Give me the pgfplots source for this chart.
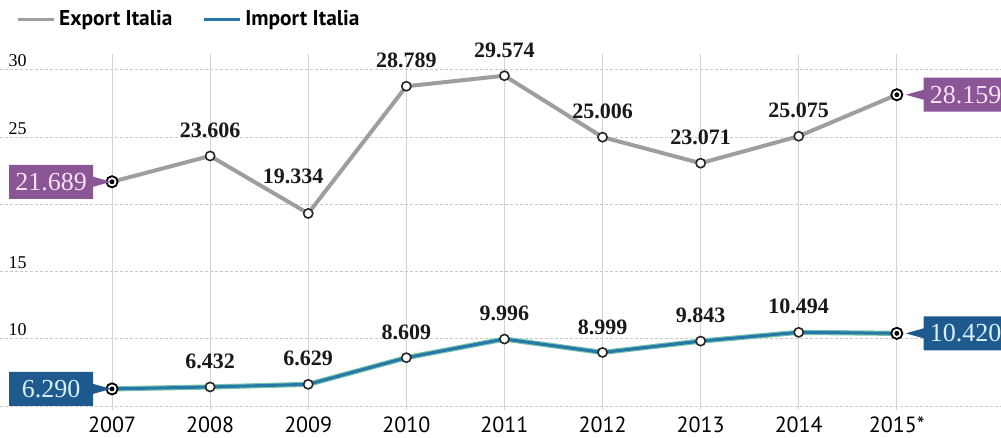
\documentclass[border=0pt]{standalone}
\usepackage{pgfplots}
\pgfplotsset{compat=1.18}
\usepackage{pgfplotstable}
\usepackage{fontspec}
\setmainfont{Liberation Serif}
\newfontfamily\ptsans{PT Sans}
\usetikzlibrary{shapes.callouts}

\definecolor{expgray}{RGB}{158,158,158}
\definecolor{impblue}{RGB}{38,120,168}
\definecolor{impgreen}{RGB}{120,196,170}
\definecolor{boxpurple}{RGB}{138,86,150}
\definecolor{boxpurpletext}{RGB}{250,225,245}
\definecolor{boxblue}{RGB}{30,90,142}
\definecolor{boxbluetext}{RGB}{215,240,250}
\definecolor{gridc}{RGB}{200,200,200}

\pgfplotstableread{
x y
0 21.689
1 23.606
2 19.334
3 28.789
4 29.574
5 25.006
6 23.071
7 25.075
8 28.159
}\exportdata

\pgfplotstableread{
x y
0 6.290
1 6.432
2 6.629
3 8.609
4 9.996
5 8.999
6 9.843
7 10.494
8 10.420
}\importdata

\pgfplotstableread{
x y lab dx dy
1 23.606 23.606 0 0
2 19.334 19.334 -7.5 6
3 28.789 28.789 0 0
4 29.574 29.574 0 0
5 25.006 25.006 0 0
6 23.071 23.071 0 0
7 25.075 25.075 0 0
}\exportlab

\pgfplotstableread{
x y lab dx dy
1 6.432 6.432 0 0
2 6.629 6.629 0 0
3 8.609 8.609 0 0
4 9.996 9.996 0 0
5 8.999 8.999 0 0
6 9.843 9.843 0 0
7 10.494 10.494 0 0
}\importlab

\tikzset{
  boxL/.style={shape=rectangle callout, callout relative pointer={(9pt,0pt)},
    callout pointer width=5pt, minimum width=42pt, minimum height=17pt,
    inner sep=1pt, anchor=east, xshift=-9pt, font=\fontsize{13}{15}\selectfont},
  boxR/.style={shape=rectangle callout, callout relative pointer={(-9pt,0pt)},
    callout pointer width=5pt, minimum width=42pt, minimum height=17pt,
    inner sep=1pt, anchor=west, xshift=13pt, font=\fontsize{13}{15}\selectfont},
}

\pgfplotsset{
  midmarks/.style={only marks, mark=*, mark size=2.3pt,
    mark options={fill=white, draw=black!85, line width=0.8pt}, forget plot,
    point meta=explicit symbolic,
    visualization depends on={\thisrow{dx} \as \dx},
    visualization depends on={\thisrow{dy} \as \dy},
    nodes near coords={\pgfplotspointmeta},
    every node near coord/.append style={font=\bfseries\fontsize{11}{13}\selectfont,
      text=black!90, anchor=south, yshift={5.3pt+\dy pt}, xshift={\dx pt}}},
  endmark/.style={only marks, mark=*, mark size=2.8pt,
    mark options={fill=white, draw=black, line width=0.9pt}, forget plot,
    point meta=explicit symbolic, nodes near coords={\pgfplotspointmeta}},
}

\begin{document}
\begin{tikzpicture}
\begin{axis}[
  scale only axis, width=500.5pt, height=219pt,
  xmin=-1.142, xmax=9.062, ymin=2.639, ymax=35.204,
  axis line style={draw=none}, major tick length=0pt,
  xtick={0,...,8}, xticklabels={2007,2008,2009,2010,2011,2012,2013,2014,2015*},
  ytick={5,10,15,20,25,30}, yticklabels={,10,15,,25,30},
  ymajorgrids, grid style={gridc, dash pattern=on 1.5pt off 1pt, line width=0.5pt},
  clip=false,
  /pgf/number format/assume math mode=true,
  xticklabel style={font=\ptsans\fontsize{11}{13}\selectfont, anchor=base, yshift=2.5pt},
  yticklabel style={font=\fontsize{9}{11}\selectfont, anchor=base west, xshift=0.8pt, yshift=1.5pt},
  legend style={at={(axis description cs:0,1)}, anchor=north west, xshift=5pt, yshift=-1pt,
    draw=none, fill=none, legend columns=2,
    font=\ptsans\bfseries\fontsize{10.7}{12}\selectfont,
    /tikz/every even column/.append style={column sep=13pt}},
  legend image code/.code={\draw[#1, line width=1.4pt] (0pt,0pt) -- (18pt,0pt);},
]
\pgfplotsinvokeforeach{0,...,8}{
  \draw[gridc!80, line width=0.45pt] (axis cs:#1,4.7) -- (axis cs:#1,31.2);
}
\addplot[expgray, line width=2pt] table[x=x,y=y]{\exportdata};
\addlegendentry{Export Italia}
\addplot[impgreen, line width=2.6pt, forget plot] table[x=x,y=y]{\importdata};
\addplot[impblue, line width=1.5pt] table[x=x,y=y]{\importdata};
\addlegendentry{Import Italia}

\addplot[midmarks] table[x=x,y=y,meta=lab]{\exportlab};
\addplot[midmarks] table[x=x,y=y,meta=lab]{\importlab};

\addplot[endmark, every node near coord/.append style={boxL, fill=boxpurple, text=boxpurpletext}]
  coordinates {(0,21.689) [21.689]};
\addplot[endmark, every node near coord/.append style={boxR, fill=boxpurple, text=boxpurpletext}]
  coordinates {(8,28.159) [28.159]};
\addplot[endmark, every node near coord/.append style={boxL, fill=boxblue, text=boxbluetext}]
  coordinates {(0,6.290) [6.290]};
\addplot[endmark, every node near coord/.append style={boxR, fill=boxblue, text=boxbluetext}]
  coordinates {(8,10.420) [10.420]};
\addplot[only marks, mark=*, mark size=1pt, black, forget plot]
  coordinates {(0,21.689) (8,28.159) (0,6.290) (8,10.420)};

\coordinate (BL) at (rel axis cs:0,0);
\coordinate (TR) at (rel axis cs:1,1);
\end{axis}
\pgfresetboundingbox
\useasboundingbox (BL) rectangle (TR);
\end{tikzpicture}
\end{document}
